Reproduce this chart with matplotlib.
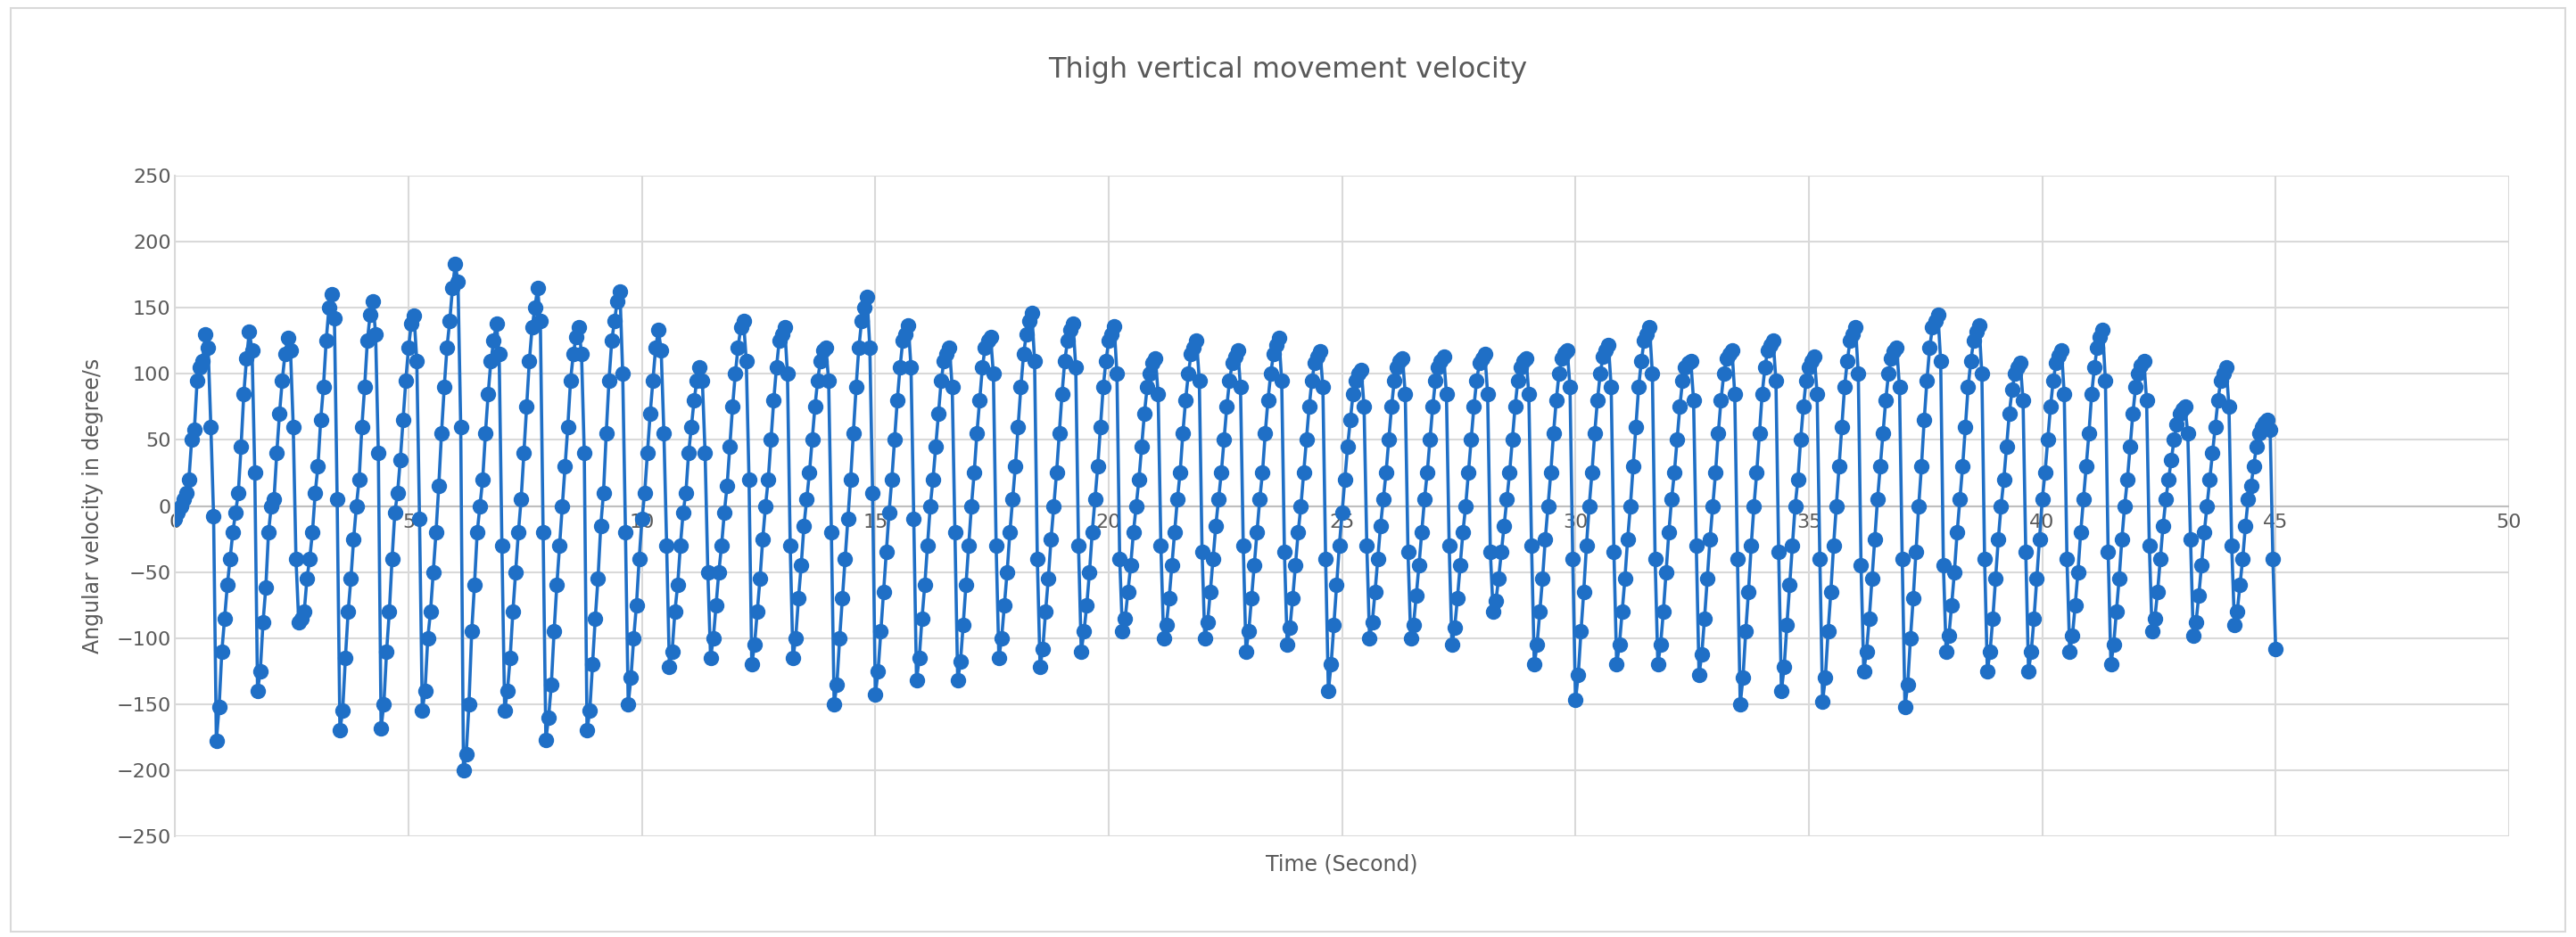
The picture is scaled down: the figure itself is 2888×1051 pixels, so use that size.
import numpy as np
import matplotlib.pyplot as plt

# one row per movement cycle (angular velocity, degree/s)
velocity_cycles = [
    [-10, -5, 0, 5, 10, 20, 50, 58, 95, 105, 110, 130, 120, 60, -8],
    [-178, -152, -110, -85, -60, -40, -20, -5, 10, 45, 85, 112, 132, 118, 25],
    [-140, -125, -88, -62, -20, 0, 5, 40, 70, 95, 115, 127, 118, 60, -40],
    [-88, -85, -80, -55, -40, -20, 10, 30, 65, 90, 125, 150, 160, 142, 5],
    [-170, -155, -115, -80, -55, -25, 0, 20, 60, 90, 125, 145, 155, 130, 40],
    [-168, -150, -110, -80, -40, -5, 10, 35, 65, 95, 120, 138, 144, 110, -10],
    [-155, -140, -100, -80, -50, -20, 15, 55, 90, 120, 140, 165, 183, 170, 60],
    [-200, -188, -150, -95, -60, -20, 0, 20, 55, 85, 110, 125, 138, 115, -30],
    [-155, -140, -115, -80, -50, -20, 5, 40, 75, 110, 135, 150, 165, 140, -20],
    [-177, -160, -135, -95, -60, -30, 0, 30, 60, 95, 115, 128, 135, 115, 40],
    [-170, -155, -120, -85, -55, -15, 10, 55, 95, 125, 140, 155, 162, 100, -20],
    [-150, -130, -100, -75, -40, -10, 10, 40, 70, 95, 120, 133, 118, 55, -30],
    [-122, -110, -80, -60, -30, -5, 10, 40, 60, 80, 95, 105, 95, 40, -50],
    [-115, -100, -75, -50, -30, -5, 15, 45, 75, 100, 120, 135, 140, 110, 20],
    [-120, -105, -80, -55, -25, 0, 20, 50, 80, 105, 125, 130, 135, 100, -30],
    [-115, -100, -70, -45, -15, 5, 25, 50, 75, 95, 110, 118, 120, 95, -20],
    [-150, -135, -100, -70, -40, -10, 20, 55, 90, 120, 140, 150, 158, 120, 10],
    [-143, -125, -95, -65, -35, -5, 20, 50, 80, 105, 125, 130, 137, 105, -10],
    [-132, -115, -85, -60, -30, 0, 20, 45, 70, 95, 110, 115, 120, 90, -20],
    [-132, -118, -90, -60, -30, 0, 25, 55, 80, 105, 120, 125, 128, 100, -30],
    [-115, -100, -75, -50, -20, 5, 30, 60, 90, 115, 130, 140, 146, 110, -40],
    [-122, -108, -80, -55, -25, 0, 25, 55, 85, 110, 125, 133, 138, 105, -30],
    [-110, -95, -75, -50, -20, 5, 30, 60, 90, 110, 125, 130, 136, 100, -40],
    [-95, -85, -65, -45, -20, 0, 20, 45, 70, 90, 100, 108, 112, 85, -30],
    [-100, -90, -70, -45, -20, 5, 25, 55, 80, 100, 115, 120, 125, 95, -35],
    [-100, -88, -65, -40, -15, 5, 25, 50, 75, 95, 108, 113, 118, 90, -30],
    [-110, -95, -70, -45, -20, 5, 25, 55, 80, 100, 115, 122, 127, 95, -35],
    [-105, -92, -70, -45, -20, 0, 25, 50, 75, 95, 108, 113, 117, 90, -40],
    [-140, -120, -90, -60, -30, -5, 20, 45, 65, 85, 95, 100, 103, 75, -30],
    [-100, -88, -65, -40, -15, 5, 25, 50, 75, 95, 105, 110, 112, 85, -35],
    [-100, -90, -68, -45, -20, 5, 25, 50, 75, 95, 105, 110, 113, 85, -30],
    [-105, -92, -70, -45, -20, 0, 25, 50, 75, 95, 108, 112, 115, 85, -35],
    [-80, -72, -55, -35, -15, 5, 25, 50, 75, 95, 105, 110, 112, 85, -30],
    [-120, -105, -80, -55, -25, 0, 25, 55, 80, 100, 112, 116, 118, 90, -40],
    [-147, -128, -95, -65, -30, 0, 25, 55, 80, 100, 113, 118, 122, 90, -35],
    [-120, -105, -80, -55, -25, 0, 30, 60, 90, 110, 125, 130, 135, 100, -40],
    [-120, -105, -80, -50, -20, 5, 25, 50, 75, 95, 105, 108, 110, 80, -30],
    [-128, -112, -85, -55, -25, 0, 25, 55, 80, 100, 112, 115, 118, 85, -40],
    [-150, -130, -95, -65, -30, 0, 25, 55, 85, 105, 118, 122, 125, 95, -35],
    [-140, -122, -90, -60, -30, 0, 20, 50, 75, 95, 105, 110, 113, 85, -40],
    [-148, -130, -95, -65, -30, 0, 30, 60, 90, 110, 125, 130, 135, 100, -45],
    [-125, -110, -85, -55, -25, 5, 30, 55, 80, 100, 112, 117, 120, 90, -40],
    [-152, -135, -100, -70, -35, 0, 30, 65, 95, 120, 135, 140, 145, 110, -45],
    [-110, -98, -75, -50, -20, 5, 30, 60, 90, 110, 125, 132, 137, 100, -40],
    [-125, -110, -85, -55, -25, 0, 20, 45, 70, 88, 100, 105, 108, 80, -35],
    [-125, -110, -85, -55, -25, 5, 25, 50, 75, 95, 108, 114, 118, 85, -40],
    [-110, -98, -75, -50, -20, 5, 30, 55, 85, 105, 120, 128, 133, 95, -35],
    [-120, -105, -80, -55, -25, 0, 20, 45, 70, 90, 100, 106, 110, 80, -30],
    [-95, -85, -65, -40, -15, 5, 20, 35, 50, 62, 70, 73, 75, 55, -25],
    [-98, -88, -68, -45, -20, 0, 20, 40, 60, 80, 95, 100, 105, 75, -30],
    [-90, -80, -60, -40, -15, 5, 15, 30, 45, 55, 60, 63, 65, 58, -40],
    [-108],
]
t_start, t_end = 0.0, 45.0
x_ticks = list(range(0, 51, 5))

velocity = np.concatenate([np.array(c, dtype=float) for c in velocity_cycles])
time = np.linspace(t_start, t_end, len(velocity))

blue = '#1F6FC6'
grid_col = '#D9D9D9'
text_col = '#595959'

fig = plt.figure(figsize=(28.88, 10.51), dpi=100)
fig.patches.append(plt.Rectangle((0.004, 0.006), 0.992, 0.985, transform=fig.transFigure,
                                 fill=False, edgecolor='#D9D9D9', linewidth=1.5))
ax = fig.add_axes([0.068, 0.1075, 0.906, 0.705])

ax.plot(time, velocity, color=blue, linewidth=2.6, marker='o', markersize=11.5,
        markerfacecolor=blue, markeredgecolor=blue, zorder=3)

ax.set_xlim(0, 50)
ax.set_ylim(-250, 250)
ax.set_xticks(x_ticks)
ax.set_yticks(np.arange(-250, 251, 50))
ax.grid(True, color=grid_col, linewidth=1.5)
ax.set_axisbelow(True)

for s in ['top', 'right', 'bottom']:
    ax.spines[s].set_visible(False)
ax.spines['left'].set_color(grid_col)
ax.spines['left'].set_linewidth(1.5)
ax.axhline(0, color='#BFBFBF', linewidth=1.5, zorder=1)

ax.tick_params(length=0, labelsize=16, labelcolor=text_col)
ax.tick_params(axis='x', labelbottom=False)
# x tick labels sit just under the zero line (Excel style)
for xv in x_ticks:
    ax.text(xv, -6, str(xv), ha='center', va='top', fontsize=16, color=text_col, zorder=2)

ax.set_xlabel('Time (Second)', fontsize=17, color=text_col, labelpad=14)
ax.set_ylabel('Angular velocity in degree/s', fontsize=17, color=text_col, labelpad=10)
fig.text(0.5, 0.925, 'Thigh vertical movement velocity', ha='center', va='center',
         fontsize=23, color=text_col)

plt.savefig('out.png', dpi=100)
